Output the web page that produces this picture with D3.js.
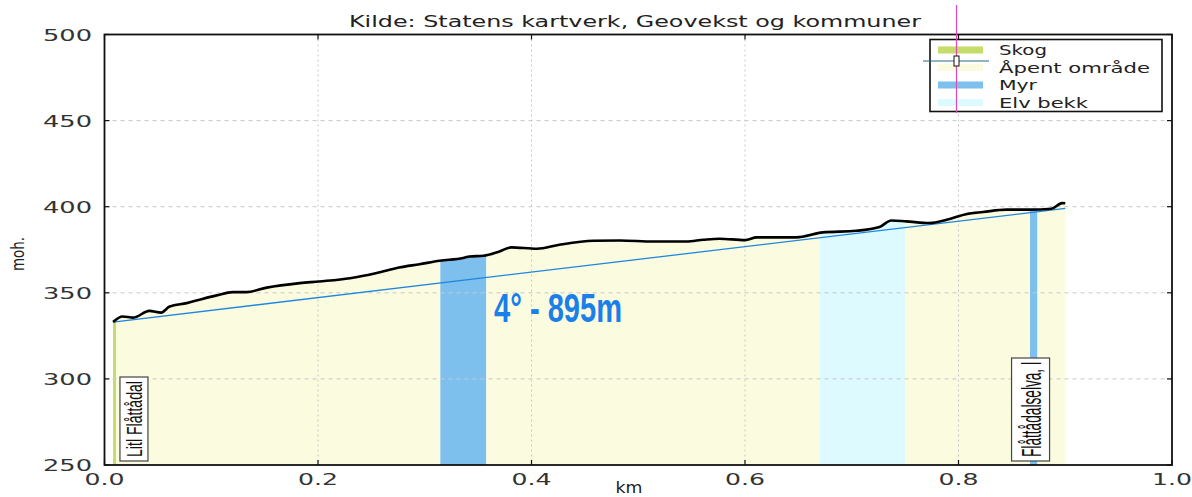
<!DOCTYPE html>
<html>
<head>
<meta charset="utf-8">
<script src="https://cdn.jsdelivr.net/npm/d3@7/dist/d3.min.js"></script>
<style>
html,body{margin:0;padding:0;background:#fff;}
svg{display:block;}
</style>
</head>
<body>
<svg id="chart" width="1192" height="497"></svg>
<script>
// ---------------- DATA ----------------
const title = "Kilde: Statens kartverk, Geovekst og kommuner";
const yLabel = "moh.";
const xLabel = "km";
const xTicks = [0.0, 0.2, 0.4, 0.6, 0.8, 1.0];
const yTicks = [250, 300, 350, 400, 450, 500];
const distKm = [0.008,0.017,0.027,0.042,0.053,0.061,0.077,0.089,0.105,0.120,0.133,0.152,0.183,0.201,0.230,0.255,0.276,0.295,0.314,0.336,0.342,0.355,0.370,0.381,0.405,0.426,0.458,0.483,0.514,0.545,0.561,0.576,0.600,0.611,0.648,0.673,0.704,0.726,0.737,0.751,0.773,0.789,0.808,0.823,0.845,0.867,0.887,0.897,0.900];
const elevation = [333.0,336.2,335.6,339.5,338.5,342.0,344.0,346.0,348.5,350.4,350.4,353.0,355.6,356.6,358.5,361.5,364.7,366.6,368.6,370.2,371.1,371.5,374.0,376.4,375.6,377.9,380.2,380.4,379.8,379.8,380.8,381.4,380.6,382.2,382.2,385.1,386.0,388.2,392.0,391.5,390.5,392.4,395.8,396.9,398.3,398.3,398.8,402.1,402.0];
const segStart = [0.008, 0.011, 0.3146, 0.3577, 0.670, 0.750, 0.867, 0.874];
const segEnd   = [0.011, 0.3146, 0.3577, 0.670, 0.750, 0.867, 0.874, 0.900];
const segType  = ["Skog","Åpent område","Myr","Åpent område","Elv bekk","Åpent område","Myr","Åpent område"];
const legendNames = ["Skog","Åpent område","Myr","Elv bekk"];
const legendColors = ["#c6dc6a","#fbfbdf","#7dc0ee","#dcfaff"];
const trendKm = [0.008, 0.900];
const trendElev = [333.0, 399.0];
const slopeText = "4° - 895m";
const placeKm = [0.0276, 0.8675];
const placeNames = ["Litl Flåttådal", "Flåttådalselva, l"];

// ---------------- LAYOUT ----------------
const svg = d3.select("#chart");
const L = 104.5, R = 1172, T = 34.5, B = 465;
const x = d3.scaleLinear().domain([0,1]).range([L,R]);
const y = d3.scaleLinear().domain([250,500]).range([B,T]);
const color = d3.scaleOrdinal().domain(legendNames).range(legendColors);
const profile = distKm.map((d,i)=>({d, e:elevation[i]}));

svg.append("rect").attr("width",1192).attr("height",497).attr("fill","#fff");

function elevAt(k){
  for(let i=0;i<profile.length-1;i++){
    const a=profile[i], b=profile[i+1];
    if(k>=a.d && k<=b.d){ const t=(k-a.d)/(b.d-a.d||1); return a.e+t*(b.e-a.e); }
  }
  return profile[profile.length-1].e;
}

// fills by segment
const area = d3.area().x(p=>x(p.d)).y0(y(250)).y1(p=>y(p.e));
segStart.forEach((s,i)=>{
  const e = segEnd[i];
  const pts = [{d:s,e:elevAt(s)}].concat(profile.filter(p=>p.d>s && p.d<e)).concat([{d:e,e:elevAt(e)}]);
  svg.append("path").attr("d",area(pts)).attr("fill",color(segType[i])).attr("stroke","none");
});

// grid
const grid = svg.append("g");
yTicks.filter(v=>v>250 && v<500).forEach(v=>{
  grid.append("line").attr("x1",L).attr("x2",R).attr("y1",y(v)).attr("y2",y(v))
    .attr("stroke","#c8c8c8").attr("stroke-width",1).attr("stroke-dasharray","4,4");
});
xTicks.filter(v=>v>0 && v<1).forEach(v=>{
  grid.append("line").attr("x1",x(v)).attr("x2",x(v)).attr("y1",T).attr("y2",B)
    .attr("stroke","#c8c8c8").attr("stroke-width",1).attr("stroke-dasharray","2,3");
});

// trend line
svg.append("line").attr("x1",x(trendKm[0])).attr("y1",y(trendElev[0]))
  .attr("x2",x(trendKm[1])).attr("y2",y(trendElev[1]))
  .attr("stroke","#1f86e0").attr("stroke-width",1.3);

// profile line
svg.append("path").datum(profile)
  .attr("d", d3.line().x(p=>x(p.d)).y(p=>y(p.e)).curve(d3.curveMonotoneX))
  .attr("fill","none").attr("stroke","#000").attr("stroke-width",2.6).attr("stroke-linejoin","round");

// place labels (boxed, rotated, horizontally stretched like the reference)
const placeLen = [76, 95];
const placeW = [28, 38];
const placeFont = [15.5, 19];
placeKm.forEach((k,i)=>{
  const cx = x(k);
  const h = placeLen[i] + 8, w = placeW[i];
  const g = svg.append("g");
  g.append("rect").attr("x",cx-w/2).attr("y",B-4-h).attr("width",w).attr("height",h)
    .attr("fill","#fff").attr("stroke","#444").attr("stroke-width",1.2);
  g.append("text").attr("transform",`translate(${cx + w*0.28},${B-8}) scale(1.45,1) rotate(-90)`)
    .attr("font-family","Liberation Sans Narrow, Liberation Sans, sans-serif")
    .attr("font-size",placeFont[i]).attr("fill","#111")
    .attr("textLength",placeLen[i]).attr("lengthAdjust","spacingAndGlyphs")
    .text(placeNames[i]);
});

// slope text
svg.append("text").attr("x",494).attr("y",322)
  .attr("font-family","Liberation Sans Narrow, Liberation Sans, sans-serif")
  .attr("font-weight","bold").attr("font-size",41).attr("fill","#1a7fe8")
  .attr("textLength",128).attr("lengthAdjust","spacingAndGlyphs")
  .text(slopeText);

// frame
svg.append("rect").attr("x",L).attr("y",T).attr("width",R-L).attr("height",B-T)
  .attr("fill","none").attr("stroke","#111").attr("stroke-width",1.8);

// ticks (inward, all sides)
const tk = svg.append("g").attr("stroke","#111").attr("stroke-width",1.2);
xTicks.forEach(v=>{
  tk.append("line").attr("x1",x(v)).attr("x2",x(v)).attr("y1",B).attr("y2",B-5);
  tk.append("line").attr("x1",x(v)).attr("x2",x(v)).attr("y1",T).attr("y2",T+5);
});
yTicks.forEach(v=>{
  tk.append("line").attr("x1",L).attr("x2",L+5).attr("y1",y(v)).attr("y2",y(v));
  tk.append("line").attr("x1",R).attr("x2",R-5).attr("y1",y(v)).attr("y2",y(v));
});

// tick labels
const fmtX = d3.format(".1f");
xTicks.forEach(v=>{
  svg.append("text").attr("x",x(v)).attr("y",485).attr("text-anchor","middle")
    .attr("font-family","DejaVu Sans, sans-serif").attr("font-size",16.5).attr("fill","#333")
    .attr("textLength",40).attr("lengthAdjust","spacingAndGlyphs").text(fmtX(v));
});
yTicks.forEach(v=>{
  svg.append("text").attr("x",92).attr("y",y(v)+6).attr("text-anchor","end")
    .attr("font-family","DejaVu Sans, sans-serif").attr("font-size",16.5).attr("fill","#333")
    .attr("textLength",49).attr("lengthAdjust","spacingAndGlyphs").text(v);
});

// axis labels
svg.append("text").attr("transform","translate(24,254) scale(1.3,1) rotate(-90)").attr("text-anchor","middle")
  .attr("font-family","DejaVu Sans, sans-serif").attr("font-size",14).attr("fill","#222")
  .attr("textLength",34).attr("lengthAdjust","spacingAndGlyphs").text(yLabel);
svg.append("text").attr("x",629).attr("y",493).attr("text-anchor","middle")
  .attr("font-family","DejaVu Sans, sans-serif").attr("font-size",15).attr("fill","#222")
  .attr("textLength",27).attr("lengthAdjust","spacingAndGlyphs").text(xLabel);

// title
svg.append("text").attr("x",635).attr("y",27).attr("text-anchor","middle")
  .attr("font-family","DejaVu Sans, sans-serif").attr("font-size",15.5).attr("fill","#222")
  .attr("textLength",572).attr("lengthAdjust","spacingAndGlyphs").text(title);

// legend
const lg = svg.append("g");
lg.append("rect").attr("x",930).attr("y",39.5).attr("width",232).attr("height",72)
  .attr("fill","#fff").attr("stroke","#111").attr("stroke-width",1.6);
const legLen = [48, 151, 38, 89];
legendNames.forEach((n,i)=>{
  const cy = 50 + i*17.5;
  lg.append("rect").attr("x",938).attr("y",cy-3.5).attr("width",45).attr("height",7).attr("fill",color(n));
  lg.append("text").attr("x",999).attr("y",cy+5).attr("font-family","DejaVu Sans, sans-serif")
    .attr("font-size",14).attr("fill","#222")
    .attr("textLength",legLen[i]).attr("lengthAdjust","spacingAndGlyphs").text(n);
});

// cursor overlay
svg.append("line").attr("x1",956.5).attr("x2",956.5).attr("y1",5).attr("y2",113)
  .attr("stroke","#e048b8").attr("stroke-width",1.2);
svg.append("line").attr("x1",923).attr("x2",989).attr("y1",61).attr("y2",61)
  .attr("stroke","#2a6a80").attr("stroke-width",1.2);
svg.append("rect").attr("x",954).attr("y",56).attr("width",5).attr("height",10)
  .attr("fill","#fff").attr("stroke","#111").attr("stroke-width",1);
</script>
</body>
</html>
